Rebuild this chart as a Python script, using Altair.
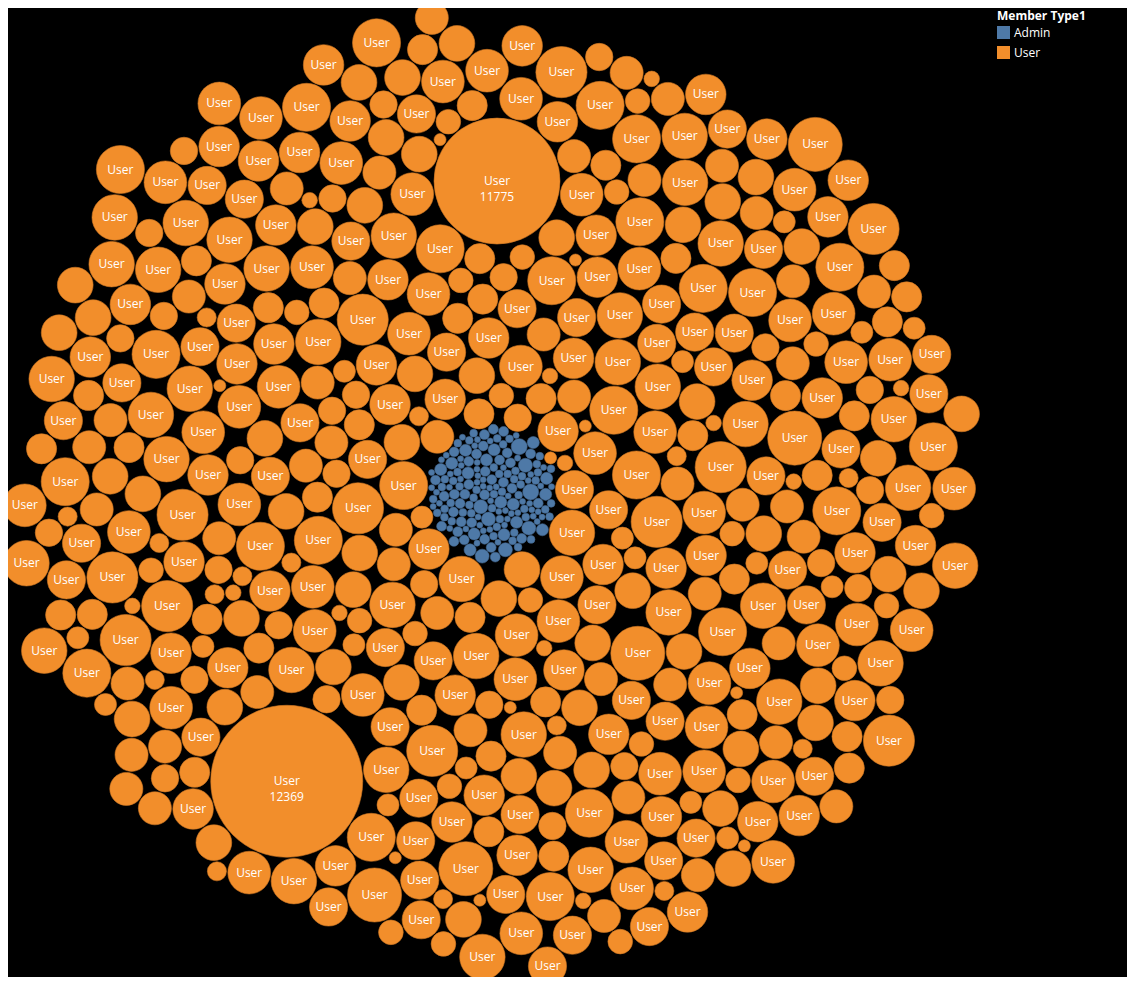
import math

import pandas as pd
import altair as alt

# summed measure per member, bucketed by level (value, how many members)
user_values = [10482, 10490, 10500, 10510, 10520, 10532, 10545, 10560,
               10575, 10590, 10605, 10620, 10640, 10660, 10685, 10710]
user_counts = [10, 12, 15, 18, 22, 29, 39, 48, 51, 52, 53, 50, 38, 25, 12, 5]
admin_values = [10473, 10475, 10478, 10482, 10486, 10491]
admin_counts = [55, 50, 34, 16, 6, 2]
top_users = [11775, 12369]      # the two big bubbles, labelled with their value
label_min = 10583               # smaller bubbles get no "User" text

size_domain = [10470, 12369]
size_range = [0, 4 * 76 ** 2]   # vega symbol size = (2r)^2
gap_user, gap_admin = 0.7, 0.3


def radius(v):
    size = (v - size_domain[0]) / (size_domain[1] - size_domain[0]) * size_range[1]
    return math.sqrt(max(size, 0)) / 2


def mix(values, counts):
    # spread the sizes through the drawing order (golden-ratio stride)
    items = [v for v, c in zip(values, counts) for _ in range(c)]
    n = len(items)
    step = int(n * 0.618)
    while math.gcd(step, n) != 1:
        step += 1
    return [items[(i * step) % n] for i in range(n)]


# front-chain circle packing, same as d3.packSiblings
def place(b, a, c):
    dx, dy = b[0] - a[0], b[1] - a[1]
    d2 = dx * dx + dy * dy
    if d2:
        a2 = (a[2] + c[2]) ** 2
        b2 = (b[2] + c[2]) ** 2
        if a2 > b2:
            x = (d2 + b2 - a2) / (2 * d2)
            y = math.sqrt(max(0, b2 / d2 - x * x))
            c[0] = b[0] - x * dx - y * dy
            c[1] = b[1] - x * dy + y * dx
        else:
            x = (d2 + a2 - b2) / (2 * d2)
            y = math.sqrt(max(0, a2 / d2 - x * x))
            c[0] = a[0] + x * dx - y * dy
            c[1] = a[1] + x * dy + y * dx
    else:
        c[0] = a[0] + c[2]
        c[1] = a[1]


def intersects(a, b):
    dr = a[2] + b[2] - 1e-6
    dx, dy = b[0] - a[0], b[1] - a[1]
    return dr > 0 and dr * dr > dx * dx + dy * dy


def pack(radii):
    n = len(radii)
    C = [[0.0, 0.0, r] for r in radii]
    C[0][0] = -C[1][2]
    C[1][0] = C[0][2]
    place(C[1], C[0], C[2])
    nxt = [0] * n
    prv = [0] * n
    nxt[0], nxt[1], nxt[2] = 1, 2, 0
    prv[0], prv[1], prv[2] = 2, 0, 1

    def score(k):
        p, q = C[k], C[nxt[k]]
        ab = p[2] + q[2]
        sx = (p[0] * q[2] + q[0] * p[2]) / ab
        sy = (p[1] * q[2] + q[1] * p[2]) / ab
        return sx * sx + sy * sy

    a, b = 0, 1
    i = 3
    while i < n:
        place(C[a], C[b], C[i])
        c = i
        j, k = nxt[b], prv[a]
        sj, sk = C[b][2], C[a][2]
        retry = False
        while True:
            if sj <= sk:
                if intersects(C[j], C[c]):
                    b = j
                    nxt[a], prv[b] = b, a
                    retry = True
                    break
                sj += C[j][2]
                j = nxt[j]
            else:
                if intersects(C[k], C[c]):
                    a = k
                    nxt[a], prv[b] = b, a
                    retry = True
                    break
                sk += C[k][2]
                k = prv[k]
            if j == nxt[k]:
                break
        if retry:
            continue
        prv[c], nxt[c] = a, b
        nxt[a] = c
        prv[b] = c
        b = c
        aa = score(a)
        cc = nxt[c]
        while cc != b:
            ca = score(cc)
            if ca < aa:
                a, aa = cc, ca
            cc = nxt[cc]
        b = nxt[a]
        i += 1
    return C


admin = mix(admin_values, admin_counts)
users = mix(user_values, user_counts)
na = len(admin)
admin_r = [radius(v) + gap_admin for v in admin]


def run(user_seq):
    C = pack(admin_r + [radius(v) + gap_user for v in user_seq])
    cx = sum(c[0] for c in C[:na]) / na
    cy = sum(c[1] for c in C[:na]) / na
    return C, cx, cy


# where the two big bubbles sit, as offsets from the admin cluster
want1, want2 = (-6, -310), (-203, 299)

# pick the drawing slot of each big bubble so it lands at its distance / side
best = None
for p1 in range(110, 200):
    C, cx, cy = run(users[:p1] + [top_users[0]])
    d = math.hypot(C[-1][0] - cx, C[-1][1] - cy)
    err = abs(d - math.hypot(*want1))
    if best is None or err < best[0]:
        best = (err, p1)
p1 = best[1]
seq1 = users[:]
seq1.insert(p1, top_users[0])


def orient(C, cx, cy, i1, i2):
    b1 = C[i1]
    rot = math.atan2(want1[1], want1[0]) - math.atan2(b1[1] - cy, b1[0] - cx)
    cr, sr = math.cos(rot), math.sin(rot)
    pts = [((c[0] - cx) * cr - (c[1] - cy) * sr, (c[0] - cx) * sr + (c[1] - cy) * cr)
           for c in C]
    if pts[i2][0] * want2[0] < 0:
        pts = [(-x, y) for x, y in pts]
    return pts


best = None
for p2 in range(p1 + 10, p1 + 140):
    C, cx, cy = run(seq1[:p2] + [top_users[1]])
    pts = orient(C, cx, cy, na + p1, len(C) - 1)
    err = math.hypot(pts[-1][0] - want2[0], pts[-1][1] - want2[1])
    if best is None or err < best[0]:
        best = (err, p2)
p2 = best[1]
seq = seq1[:]
seq.insert(p2, top_users[1])

C, cx, cy = run(seq)
pts = orient(C, cx, cy, na + p1, na + p2)

vals = admin + seq
kinds = ['Admin'] * na + ['User'] * len(seq)

W, H = 1119, 969
centre = (483, 484)

labels = []
for kind, v in zip(kinds, vals):
    if v in top_users:
        labels.append('User\n' + str(v))
    elif kind == 'User' and v >= label_min:
        labels.append('User')
    else:
        labels.append('')

df = pd.DataFrame({
    'x': [centre[0] + p[0] for p in pts],
    'y': [centre[1] + p[1] for p in pts],
    'value': vals,
    'Member Type1': kinds,
    'label': labels,
})

xs = alt.X('x:Q', scale=alt.Scale(domain=[0, W], nice=False, zero=False), axis=None)
ys = alt.Y('y:Q', scale=alt.Scale(domain=[0, H], nice=False, zero=False, reverse=True), axis=None)

bubbles = alt.Chart(df).mark_circle(opacity=1, strokeWidth=0.6).encode(
    xs, ys,
    size=alt.Size('value:Q', scale=alt.Scale(type='linear', domain=size_domain,
                                             range=size_range, zero=False), legend=None),
    color=alt.Color('Member Type1:N',
                    scale=alt.Scale(domain=['Admin', 'User'], range=['#4e79a7', '#f28e2b']),
                    legend=alt.Legend(orient='none', legendX=989, legendY=3,
                                      title='Member Type1', titleColor='white',
                                      titleFont='Open Sans', titleFontSize=12,
                                      titleFontWeight='bold', titlePadding=3,
                                      labelColor='white', labelFont='Open Sans',
                                      labelFontSize=12, symbolType='square',
                                      symbolSize=169, symbolStrokeWidth=0,
                                      symbolOpacity=1, rowPadding=7)),
    stroke=alt.Stroke('Member Type1:N',
                      scale=alt.Scale(domain=['Admin', 'User'], range=['#41678f', '#cf7724']),
                      legend=None),
    tooltip=['Member Type1:N', 'value:Q'],
)

text = alt.Chart(df).mark_text(
    color='white', font='Open Sans', fontSize=12, lineBreak='\n', lineHeight=16,
    align='center', baseline='middle'
).encode(xs, ys, text='label:N').transform_filter("datum.label != ''")

chart = (bubbles + text).properties(
    width=W, height=H, padding=0, background='black',
    autosize=alt.AutoSizeParams(type='none')
).configure_view(stroke=None)

chart.save("out.html", embed_options={"renderer": "svg", "actions": False})
